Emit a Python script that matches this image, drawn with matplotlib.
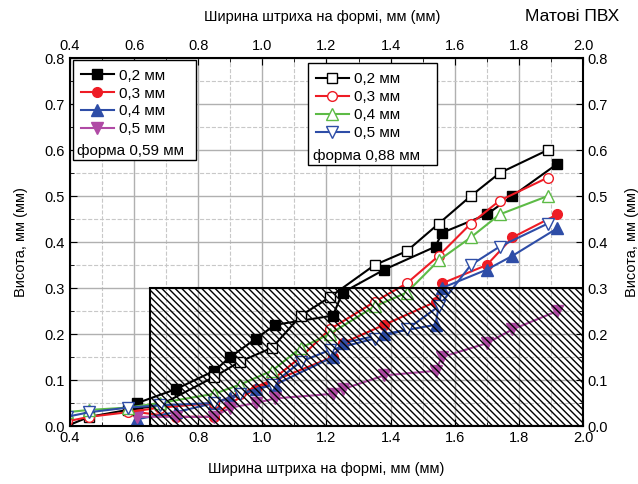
import matplotlib.pyplot as plt
from matplotlib.patches import Rectangle
from matplotlib.ticker import MultipleLocator

plt.rcParams['font.family'] = ['Liberation Sans', 'DejaVu Sans']
plt.rcParams['font.size'] = 10
plt.rcParams['hatch.linewidth'] = 1.0

# form 0.59 mm (filled markers)
x_f = [0.61, 0.73, 0.85, 0.90, 0.98, 1.04, 1.22, 1.25, 1.38, 1.54, 1.56, 1.70, 1.78, 1.92]
y_f02 = [0.05, 0.08, 0.12, 0.15, 0.19, 0.22, 0.24, 0.29, 0.34, 0.39, 0.42, 0.46, 0.50, 0.57]
y_f03 = [0.03, 0.02, 0.02, 0.05, 0.08, 0.10, 0.15, 0.18, 0.22, 0.27, 0.31, 0.35, 0.41, 0.46]
y_f04 = [0.015, 0.03, 0.05, 0.06, 0.08, 0.09, 0.15, 0.18, 0.20, 0.22, 0.30, 0.34, 0.37, 0.43]
y_f05 = [0.02, 0.02, 0.02, 0.04, 0.05, 0.06, 0.07, 0.08, 0.11, 0.12, 0.15, 0.18, 0.21, 0.25]

# form 0.88 mm (open markers)
x_o = [0.39, 0.46, 0.58, 0.68, 0.85, 0.93, 1.03, 1.12, 1.21, 1.35, 1.45, 1.55, 1.65, 1.74, 1.89]
y_o02 = [0.0, 0.02, 0.035, 0.045, 0.107, 0.14, 0.17, 0.24, 0.28, 0.35, 0.38, 0.44, 0.50, 0.55, 0.60]
y_o03 = [0.01, 0.02, 0.03, 0.04, 0.05, 0.07, 0.10, 0.15, 0.21, 0.27, 0.31, 0.37, 0.44, 0.49, 0.54]
y_o04 = [0.03, 0.035, 0.04, 0.05, 0.07, 0.09, 0.12, 0.17, 0.20, 0.26, 0.29, 0.36, 0.41, 0.46, 0.50]
y_o05 = [0.02, 0.03, 0.04, 0.045, 0.05, 0.07, 0.09, 0.14, 0.165, 0.19, 0.21, 0.26, 0.35, 0.39, 0.44]

labels = ['0,2 мм', '0,3 мм', '0,4 мм', '0,5 мм']
black, red, blue, magenta, green = 'black', '#EE1C25', '#2E4DA7', '#B04AA5', '#5DBB46'

fig = plt.figure(figsize=(6.38, 4.84), dpi=100)
ax = fig.add_axes([0.1097, 0.1198, 0.8041, 0.7603])

ms = 7
h1 = []
h1 += ax.plot(x_f, y_f02, '-s', color=black, ms=ms, lw=1.5, label=labels[0])
h1 += ax.plot(x_f, y_f03, '-o', color=red, ms=ms, lw=1.5, label=labels[1])
h1 += ax.plot(x_f, y_f04, '-^', color=blue, ms=ms + 1, lw=1.5, label=labels[2])
h1 += ax.plot(x_f, y_f05, '-v', color=magenta, ms=ms + 1, lw=1.5, label=labels[3])

h2 = []
h2 += ax.plot(x_o, y_o02, '-s', color=black, mfc='white', ms=ms, lw=1.5, label=labels[0])
h2 += ax.plot(x_o, y_o03, '-o', color=red, mfc='white', ms=ms, lw=1.5, label=labels[1])
h2 += ax.plot(x_o, y_o04, '-^', color=green, mfc='white', ms=ms + 1, lw=1.5, label=labels[2])
h2 += ax.plot(x_o, y_o05, '-v', color=blue, mfc='white', ms=ms + 1, lw=1.5, label=labels[3])

# hatched zone
ax.add_patch(Rectangle((0.65, 0.0), 1.35, 0.3, facecolor='none', edgecolor='black',
                       hatch='\\' * 5, lw=1.5, zorder=5))

ax.set_xlim(0.4, 2.0)
ax.set_ylim(0.0, 0.8)
ax.xaxis.set_major_locator(MultipleLocator(0.2))
ax.xaxis.set_minor_locator(MultipleLocator(0.1))
ax.yaxis.set_major_locator(MultipleLocator(0.1))
ax.yaxis.set_minor_locator(MultipleLocator(0.05))
ax.grid(which='major', color='#b0b0b0', lw=1.0)
ax.grid(which='minor', color='#c8c8c8', lw=0.8, ls='--')
ax.set_axisbelow(True)
ax.tick_params(which='both', direction='in', top=True, right=True,
               labeltop=True, labelright=True, labelsize=10.5)
ax.tick_params(which='major', length=5)
ax.tick_params(which='minor', length=3)
for s in ax.spines.values():
    s.set_linewidth(1.5)

ax.set_xlabel('Ширина штриха на формі, мм (мм)', fontsize=10.5, labelpad=12)
ax.set_ylabel('Висота, мм (мм)', fontsize=10.5, labelpad=12)
ry = ax.secondary_yaxis('right')
ry.set_yticks([])
ry.spines['right'].set_visible(False)
ry.set_ylabel('Висота, мм (мм)', fontsize=10.5, labelpad=30)
fig.text(0.505, 0.965, 'Ширина штриха на формі, мм (мм)', ha='center', va='center', fontsize=10.5)
fig.text(0.97, 0.965, 'Матові ПВХ', ha='right', va='center', fontsize=12.5)

# legend boxes
for (x0, y0, w, h) in [(0.006, 0.723, 0.240, 0.272), (0.464, 0.709, 0.251, 0.277)]:
    ax.add_patch(Rectangle((x0, y0), w, h, transform=ax.transAxes, facecolor='white',
                           edgecolor='black', lw=1.0, zorder=8))
leg1 = ax.legend(handles=h1, loc='upper left', bbox_to_anchor=(0.0, 1.0), frameon=False,
                 fontsize=11, handlelength=2.2, handletextpad=0.3, labelspacing=0.25,
                 borderaxespad=0.3)
leg1.set_zorder(9)
ax.add_artist(leg1)
ax.text(0.014, 0.737, 'форма 0,59 мм', transform=ax.transAxes, zorder=10, fontsize=11)
leg2 = ax.legend(handles=h2, loc='upper left', bbox_to_anchor=(0.458, 0.99), frameon=False,
                 fontsize=11, handlelength=2.2, handletextpad=0.3, labelspacing=0.25,
                 borderaxespad=0.3)
leg2.set_zorder(9)
ax.text(0.474, 0.722, 'форма 0,88 мм', transform=ax.transAxes, zorder=10, fontsize=11)

fig.savefig('out.png', dpi=100)
